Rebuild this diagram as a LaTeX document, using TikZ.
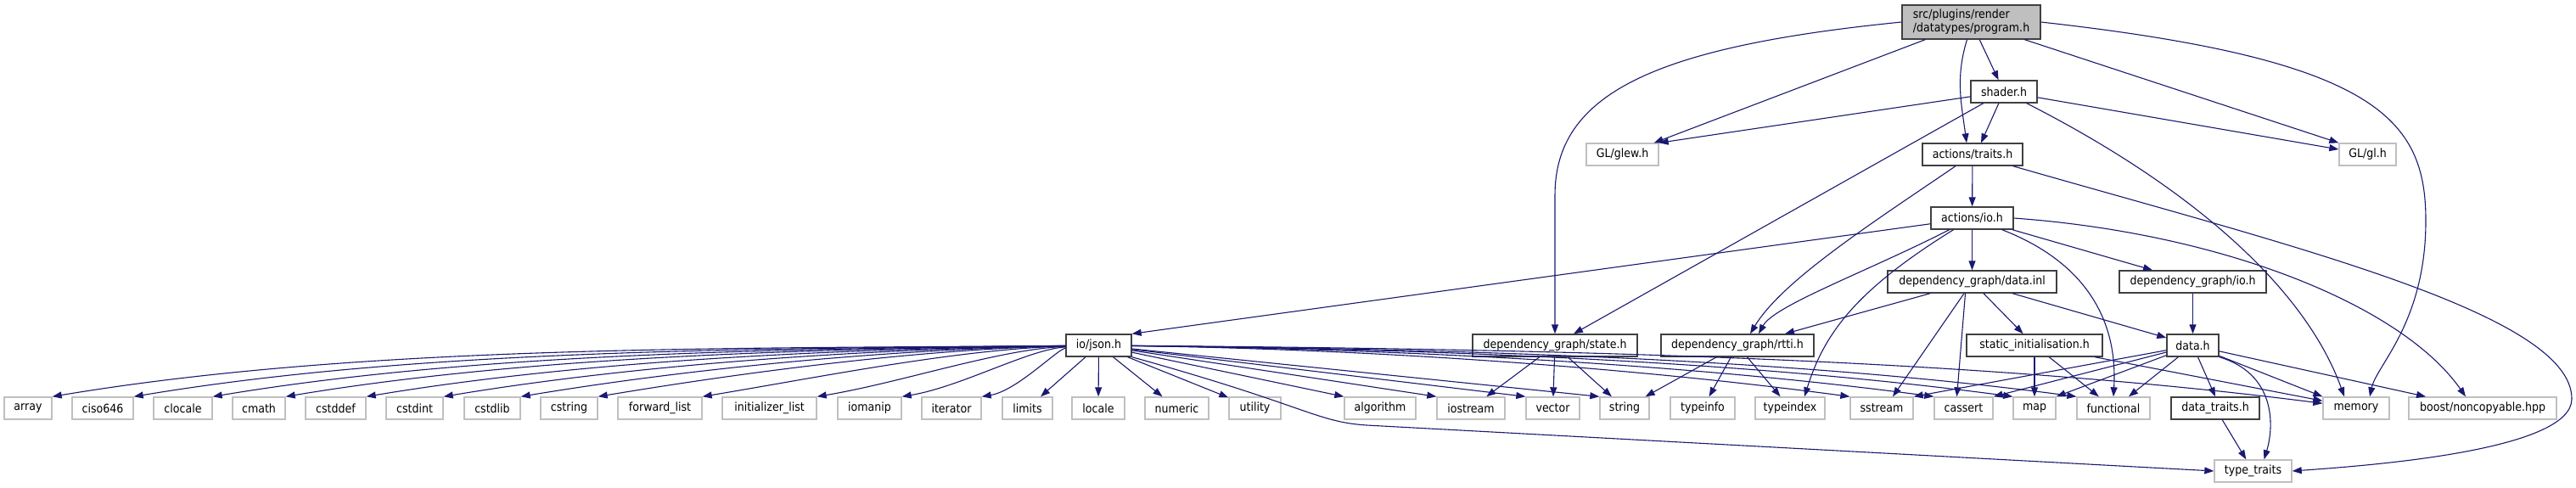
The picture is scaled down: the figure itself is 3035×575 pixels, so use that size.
\documentclass[tikz,border=0pt]{standalone}
\usepackage{fontspec}
\usepackage{tikz}
\usetikzlibrary{arrows.meta}
\newfontfamily\graphfont{DejaVu Sans}[FakeStretch=0.9]
\definecolor{edgeBlue}{HTML}{191970}
\definecolor{localBorder}{HTML}{404040}
\definecolor{sysBorder}{HTML}{BFBFBF}
\definecolor{rootFill}{HTML}{BFBFBF}

\begin{document}
\begin{tikzpicture}[x=1pt, y=-1pt,
    hbox/.style={rectangle, draw=localBorder, line width=1.4pt, fill=white, minimum height=26pt,
      inner sep=0pt, font=\graphfont\fontsize{14}{16}\selectfont, text=black},
    sbox/.style={hbox, draw=sysBorder},
    rootbox/.style={hbox, fill=rootFill, align=left, minimum height=40pt},
    inc/.style={draw=edgeBlue, line width=1.1pt, -{Triangle[length=11pt, width=8pt]}}
  ]
  \useasboundingbox (0,0) rectangle (3035,575);

  % project headers
  \node[rootbox, minimum width=163pt] (program) at (2322.5,26) {src/plugins/render\\/datatypes/program.h};
  \node[hbox, minimum width=78pt] (shader) at (2361,108) {shader.h};
  \node[sbox, minimum width=85pt] (glew) at (1911.5,182) {GL/glew.h};
  \node[hbox, minimum width=118pt] (traits) at (2324,182) {actions/traits.h};
  \node[sbox, minimum width=67pt] (gl) at (2789.5,182) {GL/gl.h};
  \node[hbox, minimum width=97pt] (io) at (2323.5,257) {actions/io.h};
  \node[hbox, minimum width=199pt] (datainl) at (2323.5,332) {dependency\_graph/data.inl};
  \node[hbox, minimum width=173pt] (dgio) at (2583.5,332) {dependency\_graph/io.h};
  \node[hbox, minimum width=77pt] (json) at (1294.5,407) {io/json.h};
  \node[hbox, minimum width=194pt] (state) at (1832,407) {dependency\_graph/state.h};
  \node[hbox, minimum width=180pt] (rtti) at (2047,407) {dependency\_graph/rtti.h};
  \node[hbox, minimum width=160pt] (static) at (2397,407) {static\_initialisation.h};
  \node[hbox, minimum width=61pt] (datah) at (2583.5,407) {data.h};
  \node[hbox, minimum width=104pt] (datatraits) at (2610,481) {data\_traits.h};

  % system headers
  \foreach \nm/\x/\w/\lbl in {array/33/56/array, ciso/121/72/ciso646, clocale/215.5/69/clocale,
      cmath/305/62/cmath, cstddef/395.5/71/cstddef, cstdint/488.5/67/cstdint, cstdlib/580/66/cstdlib,
      cstring/670.5/67/cstring, fwdlist/777.5/99/forward\_list, initlist/906.5/111/initializer\_list,
      iomanip/1024.5/75/iomanip, iterator/1121/70/iterator, limits/1210.5/59/limits, locale/1294/62/locale,
      numeric/1386.5/75/numeric, utility/1478.5/61/utility, algorithm/1626/84/algorithm,
      iostream/1733/80/iostream, vector/1829.5/63/vector, string/1914/58/string, typeinfo/2006/76/typeinfo,
      typeindex/2109/82/typeindex, sstream/2217/74/sstream, cassert/2313.5/69/cassert, map/2397/50/map,
      functional/2490/86/functional, memory/2776/78/memory} {
    \node[sbox, minimum width=\w pt] (\nm) at (\x,481) {\lbl};
  }
  \node[sbox, minimum width=174pt] (boost) at (2925,481) {boost/noncopyable.hpp};
  \node[sbox, minimum width=91pt] (typetraits) at (2654.5,555) {type\_traits};

  % program.h
  \draw[inc] (program) -- (shader);
  \draw[inc] ([xshift=-5pt]program.south) .. controls +(-14,45) and +(-6,-45) .. ([xshift=-7pt]traits.north);
  \draw[inc] (program) -- ([xshift=-6pt]glew.north east);
  \draw[inc] (program) -- (gl.north west);
  \draw[inc] (program.west) .. controls (1950,55) and (1832,110) .. (1832,230) -- (state.north);
  \draw[inc] (program.east) .. controls (2800,70) and (2858,140) .. (2858,260)
    .. controls (2858,380) and (2800,430) .. ([xshift=16pt]memory.north);
  % shader.h
  \draw[inc] (shader) -- ([xshift=10pt]traits.north);
  \draw[inc] (shader) -- (glew.north east);
  \draw[inc] (shader) -- ([yshift=6pt]gl.west);
  \draw[inc] (shader) -- ([xshift=22pt]state.north);
  \draw[inc] (shader) .. controls (2600,230) and (2720,350) .. ([xshift=-14pt]memory.north);
  % actions/traits.h
  \draw[inc] (traits) -- (io);
  \draw[inc] (traits) .. controls (2210,260) and (2100,330) .. ([xshift=15pt]rtti.north);
  \draw[inc] (traits) .. controls (2700,290) and (3030,370) .. (3030,470)
    .. controls (3030,530) and (2800,548) .. (typetraits.east);
  % actions/io.h
  \draw[inc] (io) -- (json.north east);
  \draw[inc] (io) .. controls (2200,320) and (2090,360) .. ([xshift=25pt]rtti.north);
  \draw[inc] (io) .. controls (2190,340) and (2150,390) .. ([xshift=17pt]typeindex.north);
  \draw[inc] (io) -- (datainl);
  \draw[inc] (io) .. controls (2460,310) and (2495,380) .. (functional.north);
  \draw[inc] (io) -- (dgio);
  \draw[inc] (io.east) .. controls (2620,275) and (2830,360) .. ([xshift=-20pt]boost.north);
  % dependency_graph/data.inl
  \draw[inc] (datainl) -- ([xshift=56pt]rtti.north);
  \draw[inc] (datainl) -- ([xshift=13pt]sstream.north);
  \draw[inc] ([xshift=-8pt]datainl.south) -- ([xshift=-8pt]cassert.north);
  \draw[inc] (datainl) -- (static);
  \draw[inc] (datainl) -- (datah);
  \draw[inc] (dgio) -- (datah);
  % state.h, rtti.h, static_initialisation.h
  \foreach \t in {iostream, vector, string} \draw[inc] (state) -- (\t);
  \foreach \t in {string, typeinfo, typeindex} \draw[inc] (rtti) -- (\t);
  \draw[inc] (static) -- (map);
  \draw[inc] (static) -- (functional);
  \draw[inc] (static) -- ([yshift=-5pt]memory.north west);
  % data.h
  \foreach \t/\a in {sstream/north east, cassert/north east, map/north east, datatraits/north, memory/north west}
    \draw[inc] (datah) -- (\t.\a);
  \draw[inc] (datah) -- ([xshift=18pt]functional.north);
  \draw[inc] (datah) -- ([xshift=-67pt]boost.north);
  \draw[inc] (datah.south east) .. controls (2680,440) and (2680,500) .. ([xshift=13pt]typetraits.north);
  \draw[inc] (datatraits) -- (typetraits);
  % io/json.h (\L = horizontal run of the edge)
  \foreach \t/\L in {array/1233, ciso/1137, clocale/1044, cmath/958, cstddef/863, cstdint/772,
      cstdlib/681, cstring/590, fwdlist/467, initlist/332, iomanip/232, iterator/138}
    \draw[inc] (json) .. controls +({-0.35*\L},4) and +({0.3*\L},{-0.05*\L}) .. (\t.north east);
  \foreach \t in {limits, locale, numeric, utility} \draw[inc] (json) -- (\t);
  \foreach \t in {algorithm, iostream, vector, string} \draw[inc] (json) -- (\t.north west);
  \foreach \t/\L in {sstream/886, cassert/985, map/1078, functional/1153}
    \draw[inc] (json) .. controls +({0.35*\L},4) and +({-0.3*\L},{-0.04*\L}) .. (\t.north west);
  \draw[inc] (json) .. controls +(500,4) and +(-430,-55) .. ([yshift=-8pt]memory.north west);
  \draw[inc] (json.south east) .. controls (1540,478) and (1550,497) .. (1610,501) -- (typetraits.west);
\end{tikzpicture}
\end{document}
